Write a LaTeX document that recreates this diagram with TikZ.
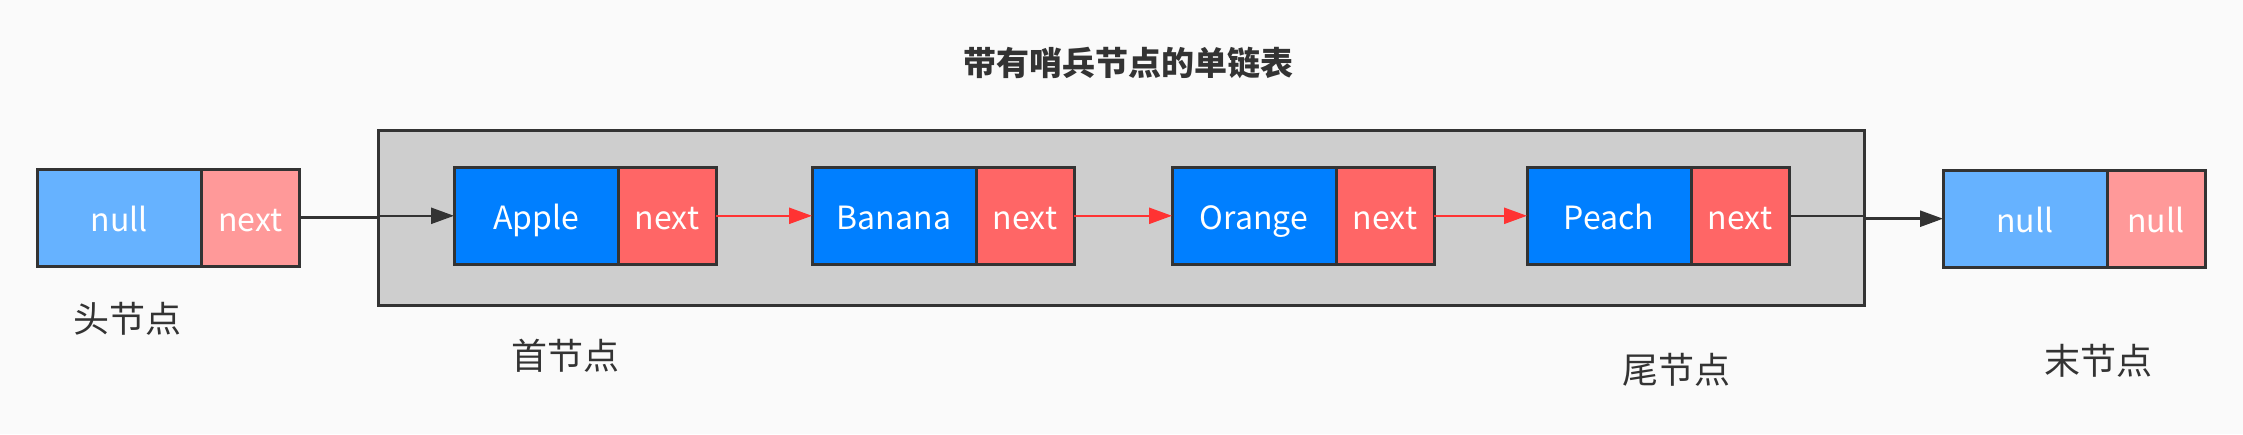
\documentclass[tikz,border=0pt]{standalone}
\usepackage{fontspec}
\setmainfont{Noto Sans CJK SC}
\usetikzlibrary{arrows.meta}
\definecolor{bgc}{HTML}{FAFAFA}
\definecolor{edgec}{HTML}{333333}
\definecolor{boxc}{HTML}{CECECE}
\definecolor{blueA}{HTML}{007FFF}
\definecolor{redA}{HTML}{FF6666}
\definecolor{blueB}{HTML}{66B2FF}
\definecolor{redB}{HTML}{FF9999}
\definecolor{arrred}{HTML}{FF3333}
\tikzset{
  part/.style={draw=edgec, line width=3pt, inner sep=0pt, outer sep=0pt,
    minimum height=97pt, text=white, font=\fontsize{32}{38}\selectfont,
    text height=28pt, text depth=0pt},
  valpart/.style={part, minimum width=164pt},
  ptrpart/.style={part, minimum width=98pt},
  lbl/.style={text=edgec, font=\fontsize{36}{42}\selectfont, inner sep=0pt},
  blkarr/.style={draw=edgec, line width=2.5pt, -{Triangle[length=23pt,width=16pt]}},
  redarr/.style={draw=arrred, line width=2.5pt, -{Triangle[length=23pt,width=16pt]}}
}
\begin{document}
\begin{tikzpicture}[x=1pt,y=-1pt]
\path[fill=bgc,use as bounding box] (0,0) rectangle (2243,434);

% title
\node[text=edgec, font=\fontsize{33}{40}\selectfont\bfseries, inner sep=0pt] (title) at (1128,63) {带有哨兵节点的单链表};

% sentinel container
\node[draw=edgec, line width=3pt, fill=boxc, inner sep=0pt, outer sep=0pt,
  minimum width=1486pt, minimum height=175pt] (sent) at (1121,217.5) {};

% head node
\node[valpart, fill=blueB] (h1) at (119.5,217.5) {null};
\node[ptrpart, fill=redB, anchor=west] (h2) at (h1.east) {next};

% list nodes
\node[valpart, fill=blueA] (a1) at (536,215.8) {Apple};
\node[ptrpart, fill=redA, anchor=west] (a2) at (a1.east) {next};
\node[valpart, fill=blueA] (b1) at (894,215.8) {Banana};
\node[ptrpart, fill=redA, anchor=west] (b2) at (b1.east) {next};
\node[valpart, fill=blueA] (o1) at (1254,215.8) {Orange};
\node[ptrpart, fill=redA, anchor=west] (o2) at (o1.east) {next};
\node[valpart, fill=blueA] (p1) at (1609,215.8) {Peach};
\node[ptrpart, fill=redA, anchor=west] (p2) at (p1.east) {next};

% tail node
\node[valpart, fill=blueB] (t1) at (2025,218.7) {null};
\node[ptrpart, fill=redB, anchor=west] (t2) at (t1.east) {null};

% connectors
\draw[blkarr] (h2.east) -- (h2.east -| sent.west) -- (sent.west |- a1.west) -- (a1.west);
\draw[redarr] (a2.east) -- (b1.west);
\draw[redarr] (b2.east) -- (o1.west);
\draw[redarr] (o2.east) -- (p1.west);
\draw[blkarr] (p2.east) -- (p2.east -| sent.east) -- (sent.east |- t1.west) -- (t1.west);

% labels
\node[lbl] (lh) at (127.5,319) {头节点};
\node[lbl] (lf) at (565,356) {首节点};
\node[lbl] (lw) at (1676,370) {尾节点};
\node[lbl] (lm) at (2098,361) {末节点};
\end{tikzpicture}
\end{document}
